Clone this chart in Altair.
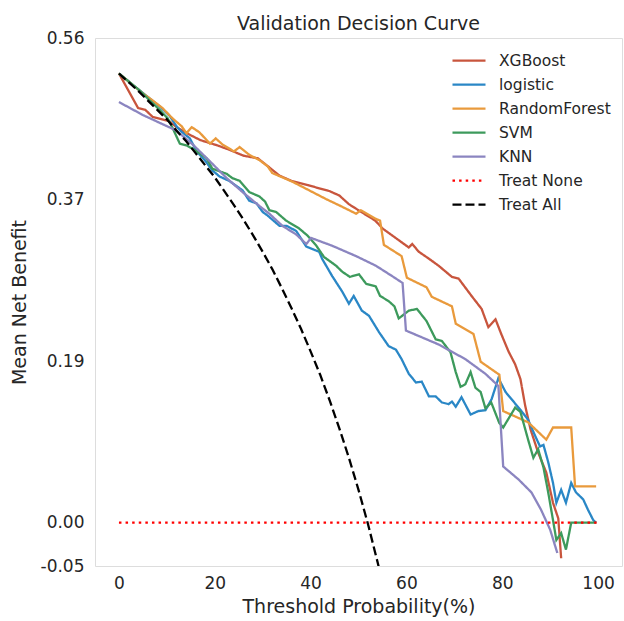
import altair as alt
import pandas as pd

names = ["XGBoost", "logistic", "RandomForest", "SVM", "KNN", "Treat None", "Treat All"]
colors = ["#c8553d", "#2a87c6", "#e99a3c", "#3d9a5c", "#8b85c0", "#ff0000", "#000000"]
dashes = [[1, 0], [1, 0], [1, 0], [1, 0], [1, 0], [2.5, 4.1], [9, 4]]
widths = [2.3, 2.3, 2.3, 2.3, 2.3, 2.6, 2.6]

xgb_x = [0, 4, 5.5, 7, 10.5, 12, 14.5, 17, 20.5, 23, 26, 29, 31.5, 33.5, 36, 39.5, 42, 44, 46, 48, 50,
         53.5, 55, 58, 60.5, 61.2, 62.6, 64.7, 66.7, 69.5, 70.9, 73.6, 75.7, 77.1, 78.6, 79.8, 81.3,
         82.7, 83.8, 84.8, 85.9, 87.5, 89.2, 90.6, 91.7, 92.3]
xgb_y = [0.519, 0.479, 0.477, 0.469, 0.464, 0.457, 0.449, 0.442, 0.436, 0.431, 0.424, 0.421, 0.410,
         0.401, 0.395, 0.390, 0.386, 0.383, 0.378, 0.368, 0.361, 0.349, 0.340, 0.328, 0.318, 0.322,
         0.313, 0.305, 0.297, 0.284, 0.282, 0.262, 0.247, 0.226, 0.235, 0.218, 0.198, 0.183, 0.166,
         0.135, 0.108, 0.081, 0.058, 0.023, 0.005, -0.041]

log_x = [0, 4.4, 8.5, 10.6, 12, 13, 14.8, 16.2, 17.9, 19.5, 21, 23, 25.8, 27.2, 28.7, 30, 31, 33.5, 35,
         37, 39.1, 41.8, 42.4, 44.5, 46.6, 48, 49, 50.7, 52.2, 54.3, 56.3, 57.8, 59, 60.5, 62, 63.2,
         64.7, 66.1, 67.4, 68.8, 69.5, 70.3, 71.5, 73.4, 75, 76.5, 77.8, 79.2, 80.7, 81.9, 84, 85.4,
         86.9, 87.9, 88.6, 89.6, 90.6, 91.3, 92.3, 93.3, 94.4, 95.4, 96.9, 97.9, 99, 99.6]
log_y = [0.519, 0.499, 0.481, 0.470, 0.458, 0.452, 0.444, 0.429, 0.419, 0.407, 0.400, 0.395, 0.384,
         0.372, 0.369, 0.359, 0.355, 0.343, 0.343, 0.337, 0.319, 0.313, 0.305, 0.285, 0.267, 0.253,
         0.262, 0.245, 0.239, 0.220, 0.204, 0.200, 0.189, 0.172, 0.162, 0.163, 0.146, 0.146, 0.139,
         0.137, 0.140, 0.134, 0.145, 0.125, 0.129, 0.130, 0.143, 0.167, 0.151, 0.143, 0.129, 0.119,
         0.100, 0.088, 0.090, 0.070, 0.046, 0.023, 0.038, 0.023, 0.046, 0.035, 0.027, 0.015, 0.003, 0.0]

rf_x = [0, 5, 7, 9.1, 11.2, 13.1, 14.1, 15.2, 16.8, 19, 20.2, 21.6, 24, 25.2, 27.2, 29.3, 31, 32, 36.2,
        39.7, 43.2, 46.6, 49.5, 50.5, 53.6, 54.5, 55.3, 59, 60.1, 64.2, 65.3, 69.5, 70.3, 74, 75.5,
        79.4, 80.2, 85.4, 89.2, 90.6, 94.4, 95.2, 99.6]
rf_y = [0.519, 0.496, 0.488, 0.479, 0.467, 0.458, 0.450, 0.457, 0.451, 0.438, 0.444, 0.437, 0.429,
        0.434, 0.425, 0.419, 0.412, 0.404, 0.394, 0.384, 0.374, 0.365, 0.357, 0.361, 0.351, 0.349,
        0.321, 0.308, 0.283, 0.272, 0.261, 0.250, 0.230, 0.218, 0.186, 0.171, 0.129, 0.116, 0.096,
        0.110, 0.110, 0.042, 0.042]

svm_x = [0, 4.4, 6.4, 8.5, 10.2, 11.2, 12.7, 14.1, 15.4, 16.8, 18.3, 19.5, 21, 22.5, 23.7, 25.2, 27.2,
         29.3, 30.5, 31.4, 32.8, 34.9, 37.6, 39.3, 41.2, 42.8, 45.3, 46.6, 48.2, 50.1, 51.6, 53.6,
         54.5, 56.3, 57.5, 58.4, 60.5, 62.2, 64.2, 66.1, 67.4, 69.2, 70.3, 71.3, 72.3, 73.4, 74.4,
         75.5, 76.5, 77.7, 79.4, 80.2, 82.7, 83.8, 85.4, 86.5, 87.5, 88.6, 89.6, 90.6, 91.3, 92.3,
         93.3, 94.4, 99.6]
svm_y = [0.519, 0.499, 0.488, 0.477, 0.467, 0.456, 0.438, 0.436, 0.432, 0.427, 0.421, 0.409, 0.406,
         0.403, 0.398, 0.395, 0.382, 0.377, 0.371, 0.361, 0.359, 0.349, 0.340, 0.332, 0.320, 0.307,
         0.297, 0.290, 0.284, 0.287, 0.276, 0.273, 0.262, 0.256, 0.250, 0.236, 0.245, 0.247, 0.233,
         0.212, 0.210, 0.197, 0.174, 0.157, 0.160, 0.174, 0.156, 0.151, 0.132, 0.139, 0.115, 0.110,
         0.133, 0.128, 0.096, 0.075, 0.085, 0.064, 0.035, 0.003, -0.020, -0.012, -0.031, 0.0, 0.0]

knn_x = [0, 5, 12, 15.4, 18.9, 22.5, 25.8, 29.3, 31.4, 34.1, 37, 39.1, 40.1, 44.5, 49.5, 53.6, 57,
         59.2, 59.9, 66.7, 72.3, 76.5, 79.2, 80.2, 83.4, 86.1, 88.1, 90, 91.5]
knn_y = [0.486, 0.471, 0.453, 0.437, 0.418, 0.398, 0.382, 0.366, 0.357, 0.343, 0.333, 0.322, 0.329,
         0.320, 0.308, 0.297, 0.285, 0.277, 0.222, 0.206, 0.189, 0.172, 0.158, 0.065, 0.050, 0.035,
         0.015, -0.008, -0.035]

none_x = [0, 100]
none_y = [0.0, 0.0]

all_x = [0, 2, 4, 6, 8, 10, 12, 14, 16, 18, 20, 22, 24, 26, 28, 30, 32, 34, 36, 38, 40, 42, 44, 46,
         48, 50, 52, 54, 55]
all_y = [0.519, 0.509, 0.499, 0.488, 0.477, 0.466, 0.453, 0.441, 0.427, 0.413, 0.399, 0.383, 0.367,
         0.350, 0.332, 0.313, 0.293, 0.271, 0.248, 0.224, 0.198, 0.171, 0.141, 0.109, 0.075, 0.038,
         -0.002, -0.046, -0.069]

y_ticks = [-0.05, 0.0, 0.1867, 0.3733, 0.56]
x_ticks = [0, 20, 40, 60, 80, 100]

series = [xgb_x, log_x, rf_x, svm_x, knn_x, none_x, all_x]
series_y = [xgb_y, log_y, rf_y, svm_y, knn_y, none_y, all_y]

rows = []
for name, xs, ys in zip(names, series, series_y):
    for i, (a, b) in enumerate(zip(xs, ys)):
        rows.append({"model": name, "t": a, "nb": b, "i": i})
df = pd.DataFrame(rows)

TXT = "#262626"
FONT = "DejaVu Sans"

leg = dict(title=None, orient="none", legendX=356, legendY=11,
           symbolType="stroke", symbolSize=1090, symbolStrokeWidth=2.5,
           labelFontSize=15.5, labelOffset=12, rowPadding=0, clipHeight=23.3,
           labelColor=TXT, labelFont=FONT)

axis_common = dict(grid=False, ticks=False, domain=False, titleFontSize=19,
                   labelFont=FONT, titleFont=FONT, labelColor=TXT, titleColor=TXT,
                   titleFontWeight="normal", labelFontWeight="normal")

base = alt.Chart(df).mark_line(clip=True).encode(
    x=alt.X("t:Q", scale=alt.Scale(domain=[-5, 105], nice=False, zero=False),
            axis=alt.Axis(values=x_ticks, title="Threshold Probability(%)", labelFontSize=17,
                          labelPadding=9, titlePadding=6, **axis_common)),
    y=alt.Y("nb:Q", scale=alt.Scale(domain=[-0.05, 0.56], nice=False, zero=False),
            axis=alt.Axis(values=y_ticks, title="Mean Net Benefit", labelFontSize=17,
                          labelExpr="datum.value < 0 ? '-' + format(-datum.value, '.2f') : format(datum.value, '.2f')",
                          labelPadding=11, titlePadding=11, **axis_common)),
    color=alt.Color("model:N", scale=alt.Scale(domain=names, range=colors),
                    legend=alt.Legend(**leg)),
    strokeDash=alt.StrokeDash("model:N", scale=alt.Scale(domain=names, range=dashes),
                              legend=alt.Legend(**leg)),
    strokeWidth=alt.StrokeWidth("model:N", scale=alt.Scale(domain=names, range=widths), legend=None),
    order="i:Q",
)

layers = [base.transform_filter(alt.datum.model == n) for n in names]

chart = alt.layer(*layers).properties(
    width=527, height=528,
    padding={"left": 95, "top": 38, "right": 2, "bottom": 55},
    autosize=alt.AutoSizeParams(type="none"),
    title=alt.TitleParams("Validation Decision Curve", fontSize=19, fontWeight="normal",
                          color=TXT, font=FONT, offset=-5),
).configure_view(
    stroke="#cccccc", strokeWidth=1.5
).configure(background="white", font=FONT)

chart.save("out.html", embed_options={"renderer": "svg", "actions": False})
